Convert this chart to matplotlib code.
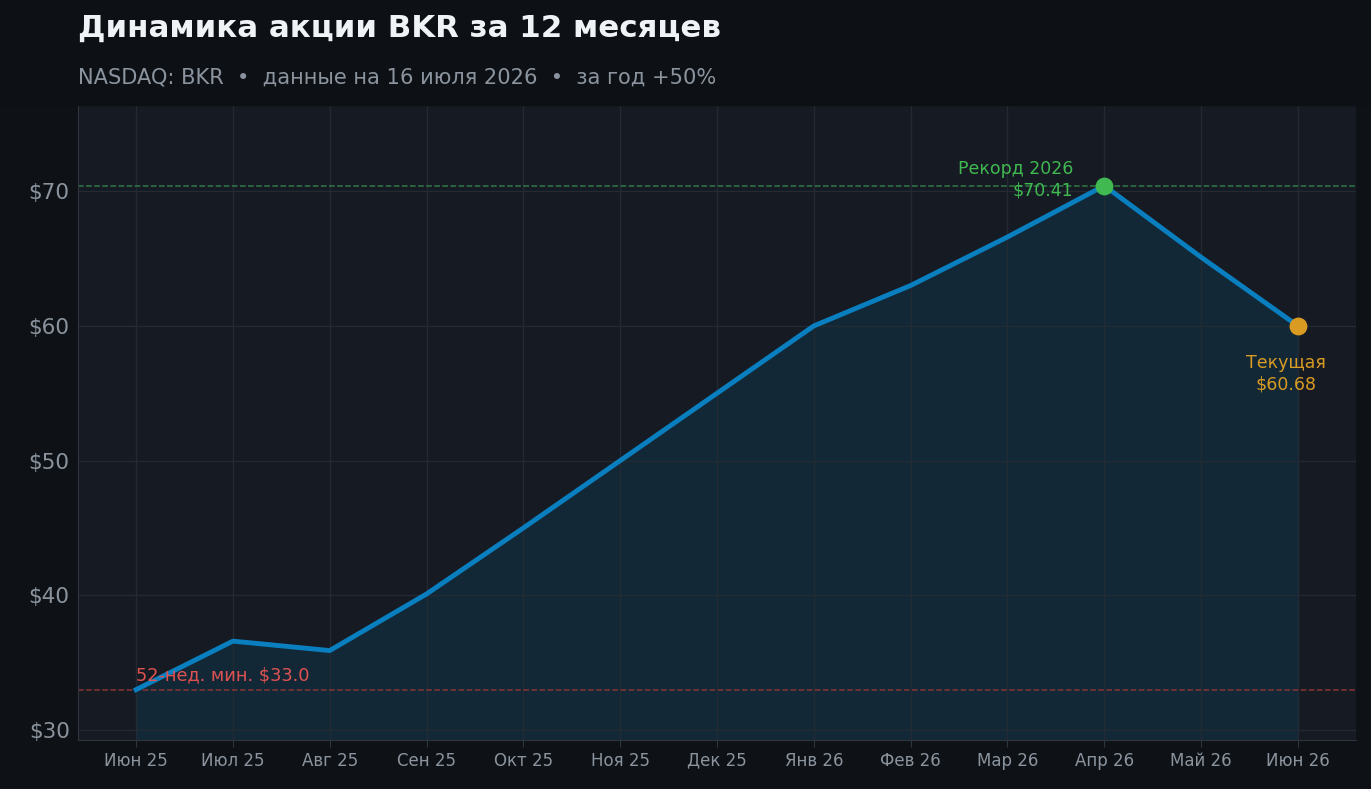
import matplotlib
matplotlib.use("Agg")
import matplotlib.pyplot as plt
plt.rcParams['font.family'] = ['DejaVu Sans']

months = ["Июн 25","Июл 25","Авг 25","Сен 25","Окт 25","Ноя 25","Дек 25","Янв 26","Фев 26","Мар 26","Апр 26","Май 26","Июн 26"]
prices = [33.0, 36.6, 35.9, 40.1, 45.0, 50.0, 55.0, 60.0, 63.0, 66.6, 70.41, 65.1, 60.0]
low52 = 33.0
high = 70.41
current_label = 60.68
yticks = [30, 40, 50, 60, 70]

fig = plt.figure(figsize=(13.71, 7.89), dpi=100, facecolor="#0e1216")
fig.patches.append(plt.Rectangle((0, 1-105/789), 1, 105/789, transform=fig.transFigure, color="#0d1115", zorder=0))
ax = fig.add_axes([78/1371, 1-740/789, (1356-78)/1371, (740-105)/789])
ax.set_facecolor("#161a22")
x = list(range(len(months)))
ax.fill_between(x, prices, 29.26, color="#0e3a52", alpha=0.45, zorder=1)
ax.plot(x, prices, color="#0a7fbf", lw=3.5, zorder=3)
ax.axhline(high, color="#2f7a45", ls="--", lw=1.1, zorder=2)
ax.axhline(low52, color="#8a3535", ls="--", lw=1.1, zorder=2)
ax.scatter([10], [high], s=140, color="#3fb950", zorder=4)
ax.scatter([12], [prices[-1]], s=140, color="#d99b22", zorder=4)
ax.text(9.68, 69.4, "Рекорд 2026\n$70.41", color="#3fb950", fontsize=12.5, ha="right", va="bottom", linespacing=1.2)
ax.text(11.88, 57.9, f"Текущая\n${current_label:.2f}", color="#d99b22", fontsize=12.5, ha="center", va="top", linespacing=1.2)
ax.text(0, 33.4, f"52-нед. мин. ${low52:.1f}", color="#e05252", fontsize=12.8, ha="left", va="bottom")
ax.set_xlim(-0.6, 12.6)
ax.set_ylim(29.26, 76.4)
ax.set_xticks(x)
ax.set_xticklabels(months)
ax.set_yticks(yticks)
ax.set_yticklabels([f"${v}" for v in yticks])
ax.tick_params(axis="x", colors="#8b949e", labelsize=12, length=5, color="#30363d")
ax.tick_params(axis="y", colors="#8b949e", labelsize=15.5, length=0, pad=6)
ax.grid(True, color="#242a33", lw=1)
for s in ax.spines.values():
    s.set_color("#30363d")
ax.spines["top"].set_visible(False)
ax.spines["right"].set_visible(False)
fig.text(78/1371, 1-28/789, "Динамика акции BKR за 12 месяцев", color="#f0f3f6", fontsize=22.2, fontweight="bold", va="center")
fig.text(78/1371, 1-77/789, "NASDAQ: BKR  •  данные на 16 июля 2026  •  за год +50%", color="#8b949e", fontsize=15.1, va="center")
fig.savefig("out.png", dpi=100, facecolor=fig.get_facecolor())
